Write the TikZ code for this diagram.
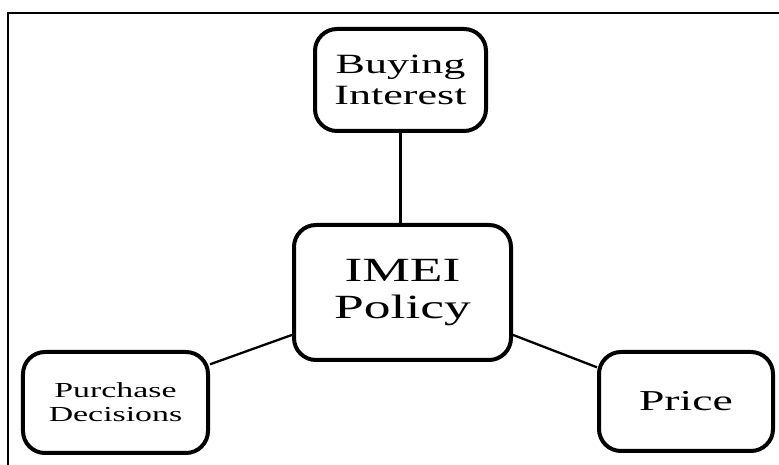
\documentclass[tikz,border=0pt]{standalone}
\usepackage{fontspec}
\setmainfont{Liberation Serif}[FakeStretch=1.58]
\usetikzlibrary{positioning}

\begin{document}
\begin{tikzpicture}[x=1bp,y=1bp,
  box/.style={draw, line width=4bp, rounded corners=22bp, align=center, inner sep=0pt},
  link/.style={line width=2.3bp}]
\useasboundingbox (0,0) rectangle (779,465);
\draw[line width=2bp] (8,0) -- (8,452) -- (779,452);
\node[box, minimum width=171bp, minimum height=102bp, font=\fontsize{28}{31}\selectfont] (interest) at (400.5,385) {Buying\\Interest};
\node[box, minimum width=217bp, minimum height=135bp, font=\fontsize{34}{37}\selectfont] (policy) at (402.5,172.5) {IMEI\\Policy};
\node[box, minimum width=185bp, minimum height=101bp, font=\fontsize{21.5}{24}\selectfont] (purchase) at (115.5,62.5) {Purchase\\Decisions};
\node[box, minimum width=174bp, minimum height=99bp, font=\fontsize{29}{31}\selectfont] (price) at (686,63.5) {Price};
\draw[link] (interest.south) -- (interest.south |- policy.north);
\draw[link] (purchase.22) -- (policy.201);
\draw[link] (policy.-21) -- (price.159);
\end{tikzpicture}
\end{document}
